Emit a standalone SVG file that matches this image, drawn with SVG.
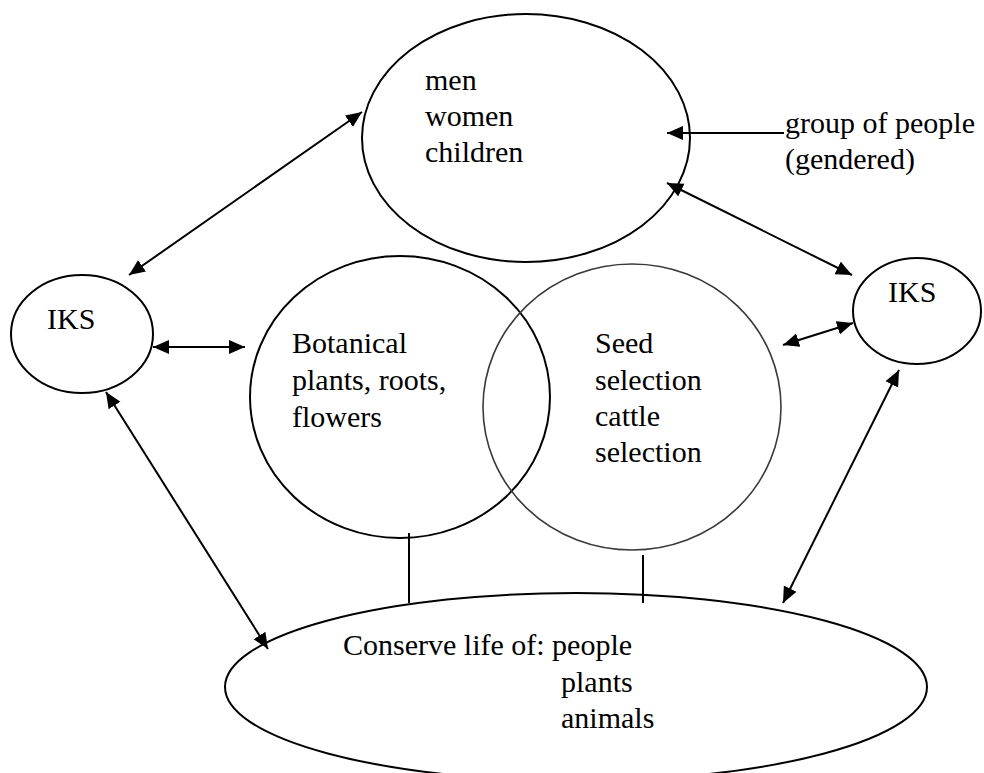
<svg xmlns="http://www.w3.org/2000/svg" width="984" height="773" viewBox="0 0 984 773">
<defs>
<marker id="ah" markerUnits="userSpaceOnUse" markerWidth="17" markerHeight="15" refX="16" refY="7" orient="auto-start-reverse">
<path d="M0,0 L16,7 L0,14 z" fill="#000"/>
</marker>
</defs>
<style>
.n{fill:none;stroke:#000;stroke-width:2}
.g{fill:none;stroke:#3a3a3a;stroke-width:1.6}
.c{fill:none;stroke:#000;stroke-width:2}
text{font-family:Liberation Serif, DejaVu Serif, serif;font-size:30px;fill:#000}
</style>
<rect width="984" height="773" fill="#fff"/>
<g id="people">
<ellipse class="n" cx="526" cy="138" rx="164" ry="124"/>
<text x="425" y="90" font-family="Liberation Serif">men</text>
<text x="425" y="126" font-family="Liberation Serif">women</text>
<text x="425" y="162" font-family="Liberation Serif">children</text>
</g>
<g id="group-label">
<text x="785" y="133" font-family="Liberation Serif">group of people</text>
<text x="785" y="169" font-family="Liberation Serif">(gendered)</text>
</g>
<g id="iks-left">
<ellipse class="n" cx="82" cy="334" rx="71" ry="59"/>
<text x="47" y="329" font-family="Liberation Serif">IKS</text>
</g>
<g id="iks-right">
<ellipse class="n" cx="917" cy="311" rx="64" ry="53"/>
<text x="888" y="302" font-family="Liberation Serif">IKS</text>
</g>
<g id="botanical">
<ellipse class="n" cx="400" cy="397" rx="150" ry="141"/>
<text x="292" y="353" font-family="Liberation Serif">Botanical</text>
<text x="292" y="390" font-family="Liberation Serif">plants, roots,</text>
<text x="292" y="427" font-family="Liberation Serif">flowers</text>
</g>
<g id="seed">
<ellipse class="g" cx="632" cy="407" rx="149" ry="143"/>
<text x="595" y="353" font-family="Liberation Serif">Seed</text>
<text x="595" y="390" font-family="Liberation Serif">selection</text>
<text x="595" y="426" font-family="Liberation Serif">cattle</text>
<text x="595" y="462" font-family="Liberation Serif">selection</text>
</g>
<g id="conserve">
<ellipse class="n" cx="576" cy="687" rx="351" ry="94"/>
<text x="343" y="655" font-family="Liberation Serif">Conserve life of: people</text>
<text x="561" y="692" font-family="Liberation Serif">plants</text>
<text x="561" y="728" font-family="Liberation Serif">animals</text>
</g>
<g id="connectors">
<line class="c" x1="129" y1="275" x2="362" y2="112" marker-start="url(#ah)" marker-end="url(#ah)"/>
<line class="c" x1="784" y1="133" x2="667" y2="133" marker-end="url(#ah)"/>
<line class="c" x1="667" y1="183" x2="852" y2="275" marker-start="url(#ah)" marker-end="url(#ah)"/>
<line class="c" x1="153" y1="347" x2="245" y2="347" marker-start="url(#ah)" marker-end="url(#ah)"/>
<line class="c" x1="783" y1="345" x2="853" y2="323" marker-start="url(#ah)" marker-end="url(#ah)"/>
<line class="c" x1="106" y1="392" x2="268" y2="649" marker-start="url(#ah)" marker-end="url(#ah)"/>
<line class="c" x1="899" y1="370" x2="783" y2="603" marker-start="url(#ah)" marker-end="url(#ah)"/>
<line class="c" x1="409" y1="533" x2="409" y2="603"/>
<line class="c" x1="643" y1="555" x2="643" y2="603"/>
</g>
</svg>
